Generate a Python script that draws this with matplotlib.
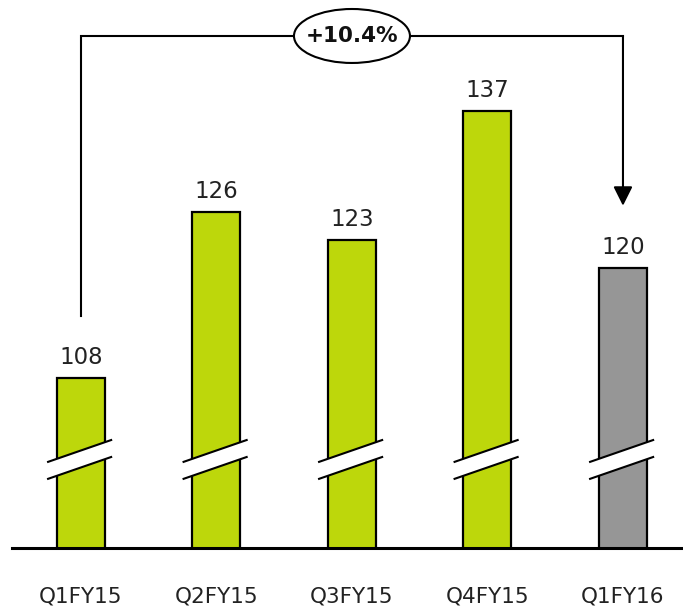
import numpy as np
import matplotlib.pyplot as plt
from matplotlib.patches import Ellipse, FancyArrowPatch, Polygon

quarters = ["Q1FY15", "Q2FY15", "Q3FY15", "Q4FY15", "Q1FY16"]
values = [108, 126, 123, 137, 120]
growth_label = "+10.4%"

green = "#bdd70b"
grey = "#969696"
bar_colors = [green, green, green, green, grey]

# axis is broken: it starts near 89.6, the zigzag marks show it
y_bottom, y_top = 89.6, 149.0
break_at = 99.2
bracket_level = 145.1
bracket_gap = 6.7

fig = plt.figure(figsize=(6.83, 6.10), dpi=100)
ax = fig.add_axes([12 / 683, 62 / 610, 671 / 683, 548 / 610])
ax.set_xlim(-0.509, 4.443)
ax.set_ylim(y_bottom, y_top)

x = np.arange(len(values))
ax.bar(x, values, width=0.354, color=bar_colors, edgecolor="black",
       linewidth=1.6, zorder=2)

# break marks across every bar
for xi in x:
    xl, xr = xi - 0.25, xi + 0.23
    rise, gap = 1.22, 0.92
    top = [(xl, break_at - rise + gap), (xr, break_at + rise + gap)]
    bot = [(xl, break_at - rise - gap), (xr, break_at + rise - gap)]
    ax.add_patch(Polygon(top + bot[::-1], closed=True, facecolor="white",
                         edgecolor="none", zorder=3))
    for seg in (top, bot):
        ax.plot([p[0] for p in seg], [p[1] for p in seg], color="black",
                lw=1.5, zorder=4, solid_capstyle="butt")

ax.axhline(y_bottom, color="black", lw=2.2, zorder=5, clip_on=False)

# value labels
for xi, v in zip(x, values):
    ax.annotate(str(v), (xi, v), xytext=(0, 10), textcoords="offset points",
                ha="center", va="baseline", fontsize=16.5, color="#222222")

# growth bracket from first to last bar
ax.plot([x[0], x[0], x[-1], x[-1]],
        [values[0] + bracket_gap, bracket_level, bracket_level, bracket_level],
        color="black", lw=1.5, zorder=3, solid_joinstyle="miter")
arrow = FancyArrowPatch((x[-1], bracket_level), (x[-1], values[-1] + bracket_gap),
                        arrowstyle="-|>,head_length=0.58,head_width=0.29",
                        mutation_scale=20, shrinkA=0, shrinkB=0,
                        color="black", lw=1.5, zorder=3)
ax.add_patch(arrow)
mid = (x[0] + x[-1]) / 2
ax.add_patch(Ellipse((mid, bracket_level), width=0.856, height=5.85,
                     facecolor="white", edgecolor="black", lw=1.5, zorder=4))
ax.text(mid, bracket_level, growth_label, ha="center", va="center",
        fontsize=15.5, fontweight="bold", color="#111111", zorder=5)

ax.set_xticks(x)
ax.set_xticklabels(quarters, fontsize=15.5, color="#222222")
ax.tick_params(axis="x", length=0, pad=28)
ax.set_yticks([])
for s in ax.spines.values():
    s.set_visible(False)

fig.savefig("out.png", dpi=100)
